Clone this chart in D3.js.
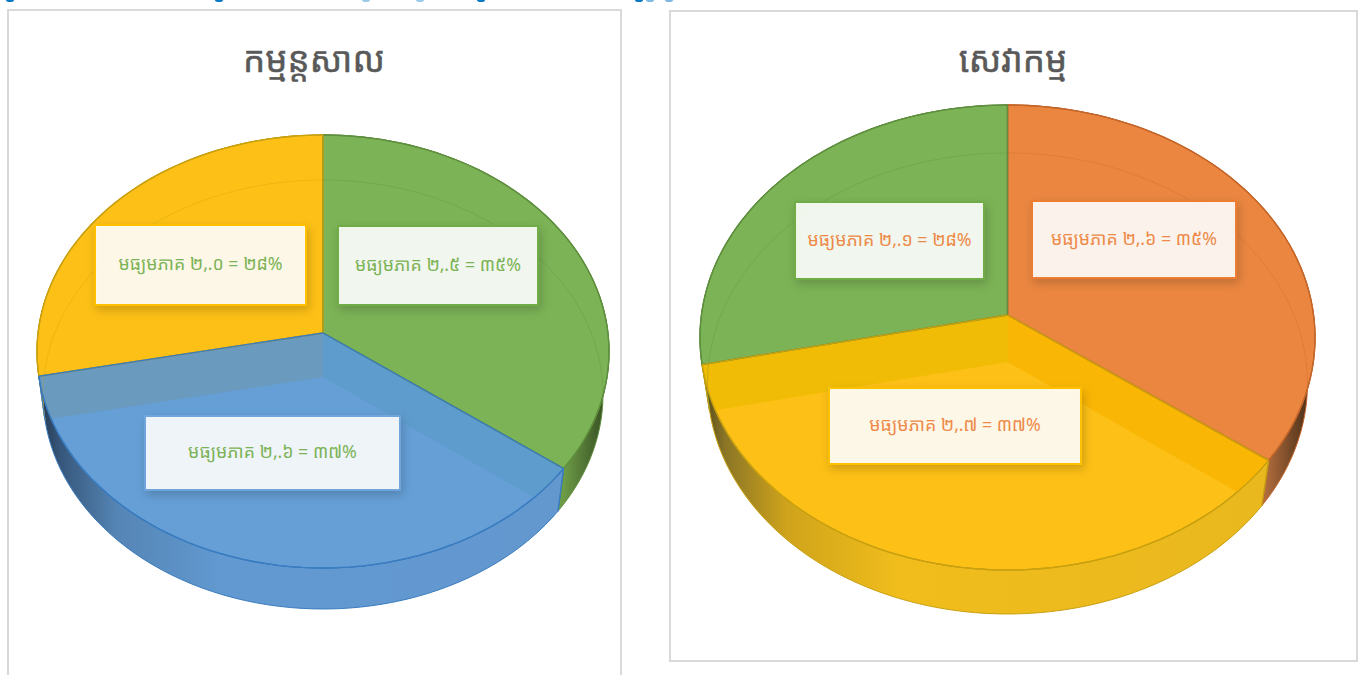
<!DOCTYPE html>
<html><head><meta charset="utf-8">
<script src="https://cdn.jsdelivr.net/npm/d3@7"></script>
<style>html,body{margin:0;padding:0;background:#fff;overflow:hidden}svg{display:block}</style>
</head><body><svg id="c" width="1361" height="675"></svg>
<script>
const fontStack = '"Khmer OS","Khmer OS System","Noto Sans Khmer","Noto Serif Khmer","DejaVu Sans","Noto Sans",sans-serif';
const titleLeft = "កម្មន្តសាល";
const titleRight = "សេវាកម្ម";
const categoriesLeft = ["green","blue","yellow"];
const valuesLeft = [2.5,2.6,2.0];
const labelsLeft = ["មធ្យមភាគ ២,.៥ = ៣៥%","មធ្យមភាគ ២,.៦ = ៣៧%","មធ្យមភាគ ២,.០ = ២៨%"];
const categoriesRight = ["orange","yellow","green"];
const valuesRight = [2.6,2.7,2.1];
const labelsRight = ["មធ្យមភាគ ២,.៦ = ៣៥%","មធ្យមភាគ ២,.៧ = ៣៧%","មធ្យមភាគ ២,.១ = ២៨%"];
const headingFragments = [[10,"#0b78c4"],[219,"#0b78c4"],[366,"#9ccbea"],[420,"#9ccbea"],[481,"#0b78c4"],[639,"#0b78c4"],[650,"#7db8e2"],[669,"#7db8e2"]];

const wallStops = [0,.04,.14,.32,.92,1];
const palette = {
  green:{face:"#7cb356",edge:"#5f8f3e",solid:"#70ad47",wall:["#2f4a22","#3e5e28","#5d8a3c","#70a048","#6d9c47","#33481f"]},
  blue:{face:"#659fd6",edge:"#3a7cc0",solid:"#6fa5dc",wall:["#23364b","#36567a","#5585b5","#6199d0","#6398cf","#3a5a7a"]},
  yellow:{face:"#fdc016",edge:"#c9a010",solid:"#ffc000",wall:["#4d431c","#8a7526","#cfa31b","#f0bd1c","#e9b81e","#6f6128"]},
  orange:{face:"#ea8640",edge:"#c4662a",solid:"#ed7d31",wall:["#5a3a20","#7e4e2a","#a8683a","#b06c3d","#b06c3d","#3e2713"]}
};
const svg = d3.select("#c");
const defs = svg.append("defs");
const shadow = defs.append("filter").attr("id","sh").attr("x","-10%").attr("y","-15%").attr("width","125%").attr("height","140%");
shadow.append("feDropShadow").attr("dx",2).attr("dy",4).attr("stdDeviation",5).attr("flood-color","#000").attr("flood-opacity",.2);

function projector(g){
  const m=(g.top+g.bottom), p=(2*g.apex-m)/(g.bottom-g.top);
  const a=g.bottom+g.bottom*p-g.apex, A=g.rx*Math.sqrt(1-p*p);
  return t=>{const x=Math.sin(t),y=-Math.cos(t),w=1+p*y;return [g.cx+A*x/w,(a*y+g.apex)/w];};
}
const samples=(a,b)=>d3.range(0,61).map(i=>a+(b-a)*i/60);
const line=d3.line();

function drawPie(o){
  const g=svg.append("g");
  const top=projector(o.top), bot=projector(o.bot);
  const arcs=d3.pie().sort(null)(o.values);
  const id=o.id;
  defs.append("clipPath").attr("id",id+"clip").append("path").attr("d",line(samples(0,2*Math.PI).map(top))+"Z");
  arcs.forEach((d,i)=>{
    const c=palette[o.cats[i]];
    const pts=samples(d.startAngle,d.endAngle);
    const gid=id+"w"+i;
    const lg=defs.append("linearGradient").attr("id",gid).attr("gradientUnits","userSpaceOnUse")
      .attr("x1",o.top.cx-o.top.rx).attr("x2",o.top.cx+o.top.rx).attr("y1",0).attr("y2",0);
    wallStops.forEach((s,k)=>lg.append("stop").attr("offset",s).attr("stop-color",c.wall[k]));
    g.append("path").attr("d",line(pts.map(top).concat(pts.slice().reverse().map(bot)))+"Z")
      .attr("fill",`url(#${gid})`).attr("stroke",c.edge).attr("stroke-width",1);
  });
  arcs.forEach((d,i)=>{
    const c=palette[o.cats[i]];
    const pts=samples(d.startAngle,d.endAngle).map(top);
    g.append("path").attr("d",line([[o.top.cx,o.top.apex]].concat(pts))+"Z")
      .attr("fill",c.face).attr("stroke",c.edge).attr("stroke-width",1.3).attr("stroke-linejoin","round");
  });
  arcs.forEach((d,i)=>{
    const c=palette[o.cats[i]];
    [[d.startAngle,o.inner[i][0]],[d.endAngle,o.inner[i][1]]].forEach(([t,fill])=>{
      if(!fill) return;
      g.append("path").attr("clip-path",`url(#${id}clip)`)
       .attr("d",line([[o.top.cx,o.top.apex],top(t),bot(t),[o.bot.cx,o.bot.apex]])+"Z")
       .attr("fill",fill);
    });
    if(!o.inner[i][0]){
      g.append("path").attr("clip-path",`url(#${id}clip)`)
       .attr("d",line(samples(d.startAngle,d.endAngle).map(bot))).attr("fill","none")
       .attr("stroke",c.edge).attr("stroke-opacity",.3).attr("stroke-width",1);
    }
  });
  [0,2,1].forEach(i=>{
    const d=arcs[i], c=palette[o.cats[i]];
    const pts=samples(d.startAngle,d.endAngle).map(top);
    g.append("path").attr("d",line(pts)).attr("fill","none").attr("stroke",c.edge).attr("stroke-width",1.3);
    [d.startAngle,d.endAngle].forEach(t=>{
      g.append("path").attr("d",line([[o.top.cx,o.top.apex],top(t)])).attr("stroke",c.edge).attr("stroke-width",1.3);
      if(i==1) g.append("path").attr("d",line([top(t),bot(t)])).attr("stroke",c.edge).attr("stroke-width",1.2);
    });
  });
  arcs.forEach((d,i)=>{
    const c=palette[o.cats[i]], b=o.boxes[i];
    g.append("rect").attr("x",b[0]).attr("y",b[1]).attr("width",b[2]-b[0]).attr("height",b[3]-b[1])
      .attr("fill","#fff").attr("fill-opacity",.89).attr("stroke",c.solid).attr("stroke-width",2).attr("filter","url(#sh)");
    g.append("text").attr("x",(b[0]+b[2])/2).attr("y",(b[1]+b[3])/2+5).attr("text-anchor","middle")
      .attr("font-family",fontStack).attr("font-size",17.8).attr("fill",o.textColor).text(o.labels[i]);
  });
  svg.append("text").attr("x",o.tx).attr("y",o.ty).attr("text-anchor","middle").attr("font-family",fontStack)
    .attr("font-size",35).attr("fill","#595959").attr("stroke","#595959").attr("stroke-width",.5).text(o.title);
}
svg.selectAll("ellipse.frag").data(headingFragments).join("ellipse").attr("class","frag")
  .attr("cx",d=>d[0]).attr("cy",0).attr("rx",4).attr("ry",2).attr("fill",d=>d[1]);
svg.append("rect").attr("x",8).attr("y",10).attr("width",613).attr("height",700).attr("fill","#fff").attr("stroke","#d9d9d9").attr("stroke-width",2);
svg.append("rect").attr("x",670).attr("y",11).attr("width",687).attr("height",650).attr("fill","#fff").attr("stroke","#d9d9d9").attr("stroke-width",2);
drawPie({id:"L",title:titleLeft,tx:314,ty:72,cats:categoriesLeft,values:valuesLeft,labels:labelsLeft,textColor:"#7cb356",
  top:{cx:323,rx:286,top:135,apex:333,bottom:568},bot:{cx:323,rx:280,top:180,apex:377,bottom:609},
  inner:[[null,null],["#5e9ccd","#6a9abd"],[null,null]],
  boxes:[[338,226,538,305],[145,416,400,490],[95,225,306,305]]});
drawPie({id:"R",title:titleRight,tx:1013,ty:72,cats:categoriesRight,values:valuesRight,labels:labelsRight,textColor:"#ee8a48",
  top:{cx:1007.5,rx:307.5,top:105,apex:315,bottom:570},bot:{cx:1007.5,rx:300,top:153,apex:362,bottom:614},
  inner:[[null,null],["#fab605","#f0bc05"],[null,null]],
  boxes:[[1032,201,1236,278],[829,388,1081,464],[795,202,984,279]]});
</script></body></html>
